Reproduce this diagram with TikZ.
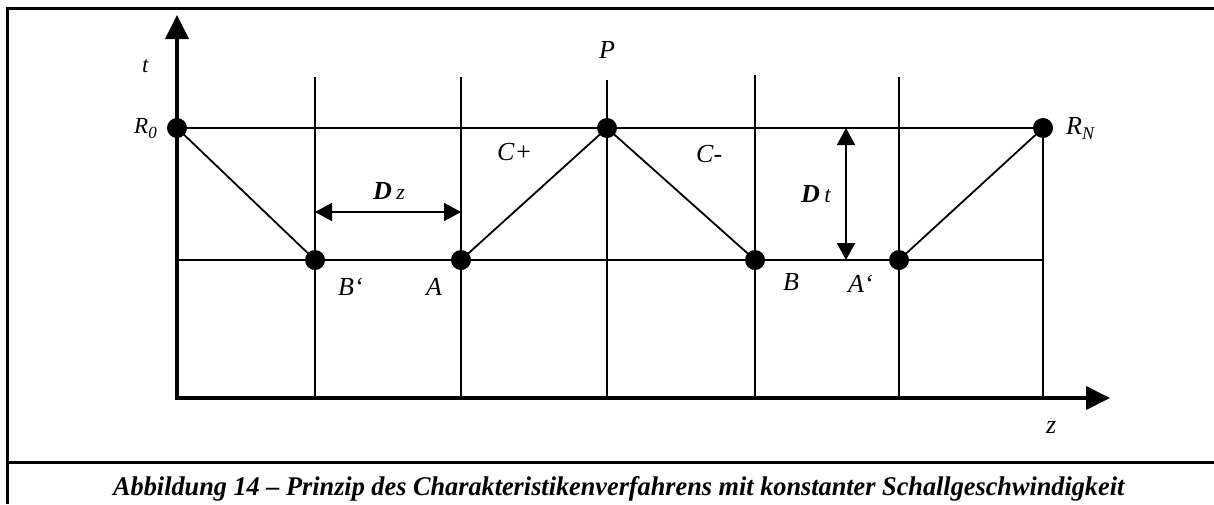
\documentclass[tikz,border=0pt]{standalone}
\usepackage{fontspec}
\usepackage{graphicx}
\setmainfont{Liberation Serif}
\usetikzlibrary{arrows.meta}
\begin{document}
\begin{tikzpicture}[x=1pt,y=-1pt,
  frameline/.style={line width=3pt},
  gridline/.style={line width=1.8pt},
  axisline/.style={line width=4pt,-{Triangle[width=23pt,length=24pt]}},
  dimline/.style={line width=1.8pt,{Triangle[width=18pt,length=17pt]}-{Triangle[width=18pt,length=17pt]}},
  dot/.style={circle,fill=black,inner sep=0pt,minimum size=20pt},
  lbl/.style={font=\fontsize{26}{30}\selectfont\itshape,inner sep=0pt,anchor=base west},
  deltalbl/.style={font=\fontsize{26}{30}\selectfont,inner sep=0pt,anchor=base west}]
\useasboundingbox (0,0) rectangle (1214,504);
% frame
\coordinate (fTL) at (7.5,8.5);
\coordinate (fTR) at (1214,8.5);
\coordinate (fBL) at (7.5,504);
\coordinate (cL) at (7.5,462);
\coordinate (cR) at (1214,462);
\draw[frameline] (fBL) -- (fTL) -- (fTR);
\draw[frameline] (cL) -- (cR);
% grid coordinates
\coordinate (O) at (177,398);
\coordinate (tTip) at (177,15);
\coordinate (zTip) at (1110,398);
\foreach \n/\x/\y in {v1/315/77, v2/461/77, v3/607/80, v4/755/75, v5/899/77, v6/1043/128}{
  \coordinate (\n top) at (\x,\y);
  \coordinate (\n bot) at (\x,398);
}
\coordinate (hbL) at (177,260);
\coordinate (hbR) at (1043,260);
% dots
\node[dot] (R0) at (177,128) {};
\node[dot] (Bp) at (315,260) {};
\node[dot] (A) at (461,260) {};
\node[dot] (P) at (607,128) {};
\node[dot] (B) at (755,260) {};
\node[dot] (Ap) at (899,260) {};
\node[dot] (RN) at (1043,128) {};
% grid lines
\foreach \n in {v1,v2,v3,v4,v5,v6}{
  \draw[gridline] (\n top) -- (\n bot);
}
\draw[gridline] (R0.center) -- (RN.center);
\draw[gridline] (hbL) -- (hbR);
% characteristics
\draw[gridline] (R0.center) -- (Bp.center);
\draw[gridline] (A.center) -- (P.center);
\draw[gridline] (P.center) -- (B.center);
\draw[gridline] (Ap.center) -- (RN.center);
% axes
\draw[axisline] (O) -- (tTip);
\draw[axisline] ([xshift=-2pt]O) -- (zTip);
% dimensions
\coordinate (dz1) at (315,212);
\coordinate (dz2) at (461,212);
\coordinate (dt1) at (846,128);
\coordinate (dt2) at (846,260);
\draw[dimline] (dz1) -- (dz2);
\draw[dimline] (dt1) -- (dt2);
% labels
\node[lbl,font=\fontsize{23}{27}\selectfont\itshape] (lt) at (142,72) {t};
\node[lbl,font=\fontsize{23}{27}\selectfont\itshape] (lR0) at (134,133) {R\raisebox{-0.22em}{\fontsize{17}{17}\selectfont 0}};
\node[lbl] (lP) at (599,58) {P};
\node[lbl] (lCp) at (497,160) {C+};
\node[lbl] (lCm) at (696,162) {C-};
\node[lbl] (lRN) at (1066,134) {R\raisebox{-0.2em}{\fontsize{18}{18}\selectfont N}};
\node[lbl] (lBp) at (338,295) {B‘};
\node[lbl] (lA) at (426,295) {A};
\node[lbl] (lB) at (783,290) {B};
\node[lbl] (lAp) at (848,292) {A‘};
\node[lbl] (lz) at (1046,433) {z};
\node[deltalbl] (ldz) at (373,199) {\textbf{\textit{D}}\,{\fontsize{22}{26}\selectfont\itshape z}};
\node[deltalbl] (ldt) at (801,202) {\textbf{\textit{D}}\,{\fontsize{23}{26}\selectfont\itshape t}};
% caption
\node[inner sep=0pt,anchor=base west] (cap) at (113,495) {\resizebox{1011pt}{19pt}{\bfseries\itshape Abbildung 14 – Prinzip des Charakteristikenverfahrens mit konstanter Schallgeschwindigkeit}};
\end{tikzpicture}
\end{document}
